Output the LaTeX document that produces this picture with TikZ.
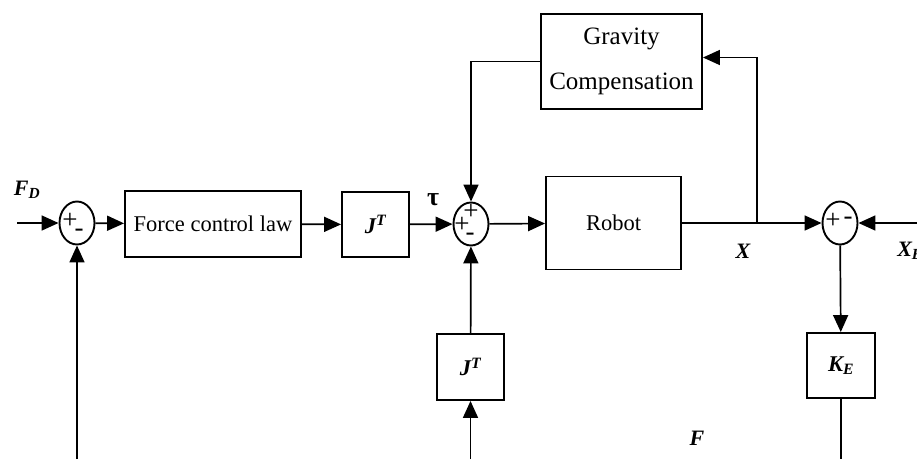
\documentclass[tikz,border=0pt]{standalone}
\usepackage{fontspec}
\setmainfont{Liberation Serif}
\usetikzlibrary{arrows.meta,shapes.geometric}
\begin{document}
\begin{tikzpicture}[x=1pt,y=-1pt,
 blk/.style={draw,line width=1.9pt,inner sep=0pt,font=\fontsize{22.5}{26}\selectfont},
 gblk/.style={blk,align=center,font=\fontsize{25}{45}\selectfont},
 sumnode/.style={draw,ellipse,line width=1.9pt,minimum width=35pt,minimum height=43pt,inner sep=0pt},
 sig/.style={font=\fontsize{27}{30}\selectfont,inner sep=0pt},
 lbl/.style={font=\bfseries\itshape\fontsize{22}{26}\selectfont,inner sep=0pt},
 wire/.style={line width=1.7pt},
 arr/.style={wire,-{Triangle[length=17pt,width=15pt]}}]
\useasboundingbox (0,0) rectangle (917,459);
% blocks
\node[sumnode] (s1) at (77,223) {};
\node[blk,minimum width=176pt,minimum height=66pt] (fcl) at (213,224) {Force control law};
\node[blk,minimum width=67pt,minimum height=65pt] (j1) at (375.5,224.5) {\bfseries\itshape J\textsuperscript{T}};
\node[sumnode] (s2) at (471,224) {};
\node[blk,minimum width=135pt,minimum height=93pt] (rob) at (613.5,223) {Robot};
\node[gblk,minimum width=161pt,minimum height=95pt] (grav) at (621.5,61.5) {Gravity\\Compensation};
\node[sumnode] (s3) at (840,223) {};
\node[blk,minimum width=68pt,minimum height=65pt] (ke) at (841,365.5) {\bfseries\itshape K\textsubscript{E}};
\node[blk,minimum width=67pt,minimum height=66pt] (j2) at (470.5,367) {\bfseries\itshape J\textsuperscript{T}};
% signs
\node[sig] (p1) at (70,221) {+};
\node[sig] (m1) at (79,233) {-};
\node[sig] (p2a) at (471,212) {+};
\node[sig] (p2b) at (462,225) {+};
\node[sig] (m2) at (470,237) {-};
\node[sig] (p3) at (833,221) {+};
\node[sig] (m3) at (848,221) {-};
% coordinates
\coordinate (in) at (17,223);
\coordinate (xe) at (917,223);
\coordinate (tap) at (757,223);
\coordinate (b1) at (77,459);
\coordinate (b2) at (470.5,459);
\coordinate (b3) at (841,459);
% connectors
\draw[arr] (in) -- (s1);
\draw[arr] (s1) -- (fcl);
\draw[arr] (fcl) -- (j1);
\draw[arr] (j1) -- (s2);
\draw[arr] (s2) -- (rob);
\draw[arr] (rob) -- (s3);
\draw[arr] (tap) |- ([yshift=4pt]grav.east);
\draw[arr] (grav.west) -| (s2.north);
\draw[arr] (xe) -- (s3);
\draw[arr] (s3) -- (ke);
\draw[wire] (ke) -- (b3);
\draw[arr] (b2) -- (j2);
\draw[arr] (j2) -- (s2);
\draw[arr] (b1) -- (s1);
% labels
\node[lbl] (fd) at (27,190) {F\textsubscript{D}};
\node[font=\bfseries\fontsize{26}{30}\selectfont,inner sep=0pt] (tau) at (433,200) {τ};
\node[lbl] (xl) at (743,251) {X};
\node[lbl] (xel) at (910,251) {X\textsubscript{E}};
\node[lbl] (fl) at (697,438) {F};
\end{tikzpicture}
\end{document}
